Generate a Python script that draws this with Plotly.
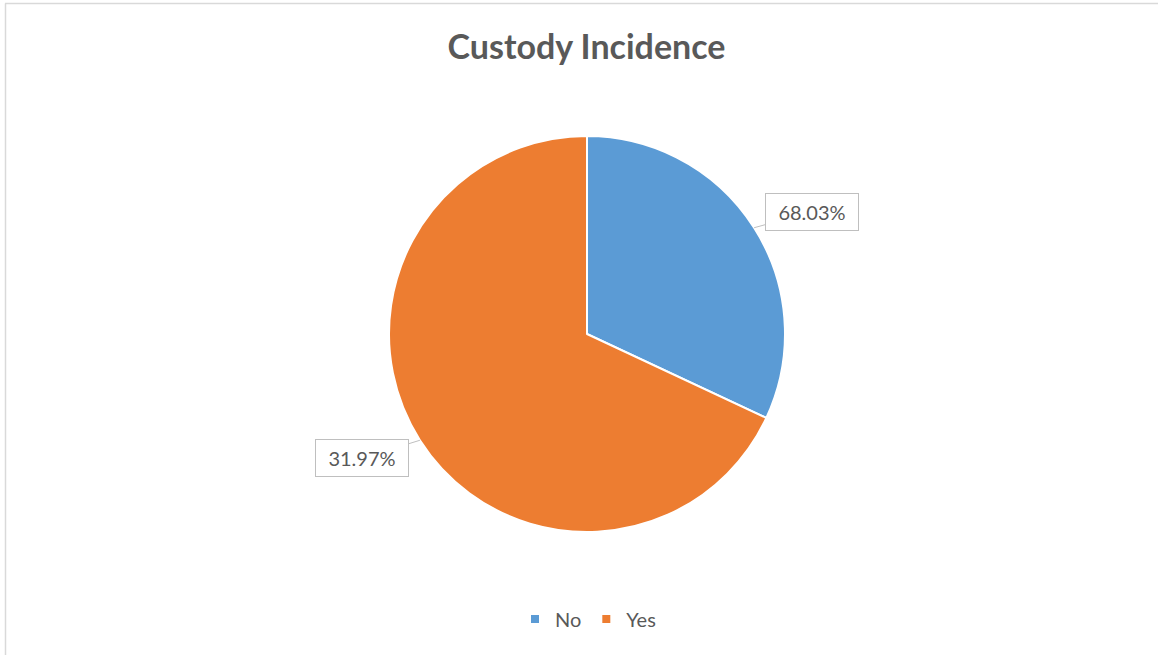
import math
import plotly.graph_objects as go

# ---- data ----
categories = ["No", "Yes"]
slice_values = [31.97, 68.03]          # slice sizes as drawn in the reference
label_texts = ["68.03%", "31.97%"]     # data-label texts as printed in the reference
colors = ["#5B9BD5", "#ED7D31"]
title_text = "Custody Incidence"

W, H = 1158, 655
FONT = "Lato, 'Open Sans', sans-serif"
GRAY = "#595959"

# pie geometry (pixels)
cx, cy, r = 587, 334, 198
dom_x = [(cx - r) / W, (cx + r) / W]
dom_y = [1 - (cy + r) / H, 1 - (cy - r) / H]

fig = go.Figure()
fig.add_trace(go.Pie(
    labels=categories, values=slice_values, sort=False, direction="clockwise",
    rotation=0, marker=dict(colors=colors, line=dict(color="white", width=2)),
    textinfo="none", hoverinfo="label+value", showlegend=False,
    domain=dict(x=dom_x, y=dom_y),
))

# legend entries (small squares)
for c, col in zip(categories, colors):
    fig.add_trace(go.Scatter(x=[None], y=[None], mode="markers", name=c,
                             marker=dict(symbol="square", size=8, color=col)))

# callout labels at slice mid-angles
total = sum(slice_values)
start = 0.0
offsets = [(58, -16), (-58, 18)]
annotations = []
for v, txt, (ox, oy) in zip(slice_values, label_texts, offsets):
    mid = (start + v / 2) / total * 2 * math.pi
    start += v
    px = cx + r * math.sin(mid)
    py = cy - r * math.cos(mid)
    annotations.append(dict(
        x=px / W, y=1 - py / H, xref="paper", yref="paper",
        text=txt, showarrow=True, arrowhead=0, arrowwidth=1, arrowcolor="#BFBFBF",
        ax=ox, ay=oy, width=80, height=24, borderpad=6,
        bordercolor="#BFBFBF", borderwidth=1, bgcolor="white",
        font=dict(family=FONT, size=20, color=GRAY),
    ))

fig.update_layout(
    width=W, height=H, margin=dict(l=0, r=0, t=0, b=0),
    paper_bgcolor="white", plot_bgcolor="white",
    title=dict(text=f"<b>{title_text}</b>", x=586.5 / W, xref="paper", xanchor="center",
               y=1 - 47 / H, yanchor="middle",
               font=dict(family=FONT, size=34, color=GRAY)),
    xaxis=dict(visible=False), yaxis=dict(visible=False),
    legend=dict(orientation="h", x=588 / W, xanchor="center", y=1 - 619 / H,
                yanchor="middle", font=dict(family=FONT, size=20, color=GRAY),
                itemwidth=30, tracegroupgap=0, bgcolor="rgba(0,0,0,0)"),
    annotations=annotations,
    shapes=[
        dict(type="line", xref="paper", yref="paper", x0=5 / W, x1=1, y0=1 - 3.5 / H, y1=1 - 3.5 / H,
             line=dict(color="#D9D9D9", width=1.5)),
        dict(type="line", xref="paper", yref="paper", x0=5.5 / W, x1=5.5 / W, y0=0, y1=1 - 3.5 / H,
             line=dict(color="#D9D9D9", width=1.5)),
    ],
)

fig.write_html("out.html")
